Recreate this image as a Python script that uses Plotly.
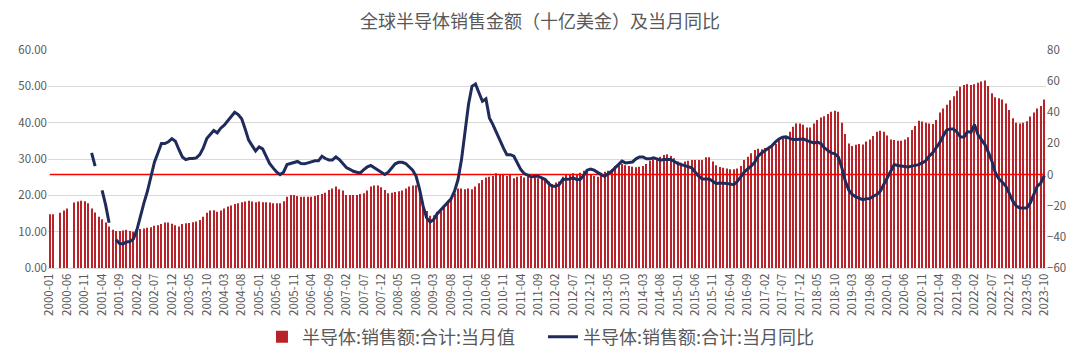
import plotly.graph_objects as go

# ---------------- data ----------------
months = [f"{y}-{m:02d}" for y in range(2000, 2024) for m in range(1, 13)][:286]
tick_labels = months[::5]

sales_2000 = [14.8, 14.8, None, 15.2, 15.8, 16.4, None, 18.0, 18.3, 18.5, 18.4, 17.8]
sales_2001 = [16.4, 15.3, 14.1, 13.4, 12.5, 11.4, 10.5, 10.2, 10.2, 10.3, 10.5, 10.2]
sales_2002 = [10.0, 10.5, 10.7, 10.9, 11.1, 11.2, 11.6, 11.8, 12.1, 12.5, 12.5, 12.2]
sales_2003 = [11.8, 11.4, 12.1, 12.3, 12.4, 12.6, 12.8, 13.2, 14.1, 15.2, 15.8, 15.9]
sales_2004 = [15.5, 15.8, 16.4, 16.9, 17.2, 17.6, 17.8, 18.1, 18.3, 18.5, 18.3, 18.1]
sales_2005 = [18.3, 18.1, 18.1, 18.0, 17.8, 17.8, 17.8, 18.4, 19.6, 20.1, 20.1, 19.8]
sales_2006 = [19.6, 19.6, 19.6, 19.6, 19.8, 20.1, 20.4, 20.7, 21.5, 21.9, 22.4, 21.7]
sales_2007 = [21.3, 20.1, 20.1, 20.1, 20.1, 20.4, 20.6, 21.3, 22.4, 22.7, 22.7, 22.2]
sales_2008 = [21.5, 20.6, 20.7, 20.9, 21.1, 21.3, 21.9, 22.4, 22.7, 22.8, 20.6, 17.8]
sales_2009 = [15.7, 14.4, 14.5, 15.5, 16.4, 17.1, 18.0, 19.0, 20.5, 21.9, 21.9, 21.7]
sales_2010 = [21.9, 21.7, 22.4, 23.3, 24.2, 24.9, 25.1, 25.3, 26.1, 25.9, 25.6, 25.3]
sales_2011 = [25.6, 24.7, 25.1, 25.3, 24.9, 25.1, 24.7, 25.0, 24.7, 24.7, 24.2, 23.8]
sales_2012 = [23.1, 23.5, 23.8, 25.1, 25.6, 25.9, 26.1, 25.9, 26.2, 26.8, 26.5, 25.6]
sales_2013 = [25.3, 25.1, 26.2, 26.5, 26.8, 27.2, 28.1, 28.3, 28.6, 28.3, 28.1, 27.9]
sales_2014 = [27.7, 27.9, 28.1, 28.6, 29.5, 29.9, 30.2, 30.6, 31.1, 31.3, 30.8, 30.2]
sales_2015 = [29.3, 29.0, 29.3, 29.5, 29.7, 29.7, 29.7, 29.7, 30.5, 30.5, 29.3, 28.3]
sales_2016 = [27.8, 27.6, 27.4, 27.2, 27.2, 27.4, 28.1, 29.7, 30.6, 31.6, 32.5, 32.8]
sales_2017 = [32.7, 33.0, 33.4, 33.9, 34.1, 35.2, 35.7, 36.3, 37.5, 38.9, 39.8, 39.8]
sales_2018 = [39.4, 38.7, 38.7, 39.8, 40.7, 41.4, 41.8, 42.4, 43.0, 43.3, 43.0, 40.0]
sales_2019 = [36.9, 34.3, 33.6, 33.9, 34.1, 34.0, 34.8, 35.4, 36.3, 37.5, 37.8, 37.5]
sales_2020 = [36.5, 35.4, 35.2, 35.0, 35.0, 35.4, 36.0, 38.0, 39.1, 40.5, 40.3, 40.0]
sales_2021 = [39.8, 39.6, 40.7, 42.8, 43.9, 44.9, 46.2, 47.3, 48.8, 49.9, 50.4, 50.6]
sales_2022 = [50.4, 50.6, 51.0, 51.3, 51.6, 50.1, 48.1, 47.0, 46.7, 46.4, 45.3, 43.5]
sales_2023 = [41.2, 40.0, 39.8, 40.0, 40.4, 41.7, 42.8, 43.9, 44.6, 46.4]

yoy_2000 = [None] * 12
yoy_2001 = [13.9, 5.4, None, -10.1, -19.3, -31.0, None, -41.8, -44.3, -44.5, -43.3, -43.0]
yoy_2002 = [-41.3, -35.3, -25.7, -18.2, -10.7, -1.1, 7.9, 13.9, 19.9, 19.9, 21.0, 23.1]
yoy_2003 = [21.4, 16.1, 11.3, 9.6, 10.3, 10.3, 10.7, 12.8, 17.1, 23.1, 25.7, 28.3]
yoy_2004 = [26.8, 29.8, 31.7, 34.3, 37.0, 40.0, 38.5, 35.8, 29.3, 22.1, 18.6, 15.2]
yoy_2005 = [17.8, 16.5, 11.8, 7.1, 4.3, 1.7, 0.0, 1.5, 6.4, 7.1, 7.7, 8.4]
yoy_2006 = [7.1, 6.9, 7.5, 8.4, 8.8, 8.8, 11.8, 10.3, 9.4, 9.4, 11.3, 9.6]
yoy_2007 = [7.1, 4.5, 3.4, 2.1, 1.5, 1.1, 3.2, 4.9, 5.8, 4.3, 2.8, 1.1]
yoy_2008 = [0.0, 1.5, 4.3, 6.9, 7.9, 7.9, 7.1, 4.9, 2.8, -1.1, -9.6, -20.3]
yoy_2009 = [-27.8, -30.4, -28.9, -25.3, -22.9, -20.3, -18.2, -15.6, -10.7, -3.2, 9.6, 27.8]
yoy_2010 = [45.0, 56.7, 58.2, 52.5, 47.1, 48.6, 36.4, 32.1, 26.8, 21.4, 17.1, 12.8]
yoy_2011 = [12.8, 11.8, 7.5, 3.2, 0.6, -0.4, -1.5, -1.1, -1.1, -2.1, -3.2, -5.8]
yoy_2012 = [-7.5, -7.5, -6.4, -3.2, -3.2, -2.8, -2.1, -3.2, -3.2, -0.6, 2.8, 3.6]
yoy_2013 = [2.8, 1.1, 0.0, -1.1, 0.4, 2.1, 4.3, 6.4, 8.6, 7.5, 7.7, 8.1]
yoy_2014 = [10.1, 11.3, 11.3, 10.1, 10.1, 10.7, 10.1, 9.2, 9.6, 9.6, 9.6, 8.4]
yoy_2015 = [7.1, 6.4, 5.8, 4.9, 4.3, 1.5, -1.1, -2.8, -2.8, -2.8, -4.3, -5.8]
yoy_2016 = [-5.4, -5.8, -5.8, -6.0, -6.6, -4.5, -1.5, 1.5, 3.6, 5.4, 7.9, 11.8]
yoy_2017 = [13.9, 15.4, 16.9, 18.6, 21.0, 22.9, 24.0, 24.2, 23.3, 22.5, 22.5, 22.5]
yoy_2018 = [22.9, 21.8, 20.8, 20.3, 20.8, 19.9, 17.1, 15.6, 13.9, 13.3, 11.3, 4.3]
yoy_2019 = [-4.3, -10.1, -12.8, -14.3, -15.0, -16.1, -15.6, -15.4, -13.9, -12.8, -10.7, -6.4]
yoy_2020 = [-1.5, 2.6, 6.4, 5.8, 5.4, 5.4, 4.9, 5.4, 5.8, 6.4, 7.5, 8.6]
yoy_2021 = [11.8, 13.9, 17.1, 20.3, 24.6, 28.5, 29.3, 29.3, 27.2, 24.2, 24.2, 27.6]
yoy_2022 = [27.2, 32.1, 25.7, 22.5, 19.3, 14.3, 8.6, 1.1, -2.8, -4.9, -7.5, -12.2]
yoy_2023 = [-17.1, -20.3, -21.4, -21.4, -21.4, -18.2, -12.2, -7.5, -5.4, -0.6]

sales = (sales_2000 + sales_2001 + sales_2002 + sales_2003 + sales_2004 + sales_2005
         + sales_2006 + sales_2007 + sales_2008 + sales_2009 + sales_2010 + sales_2011
         + sales_2012 + sales_2013 + sales_2014 + sales_2015 + sales_2016 + sales_2017
         + sales_2018 + sales_2019 + sales_2020 + sales_2021 + sales_2022 + sales_2023)
yoy = (yoy_2000 + yoy_2001 + yoy_2002 + yoy_2003 + yoy_2004 + yoy_2005
       + yoy_2006 + yoy_2007 + yoy_2008 + yoy_2009 + yoy_2010 + yoy_2011
       + yoy_2012 + yoy_2013 + yoy_2014 + yoy_2015 + yoy_2016 + yoy_2017
       + yoy_2018 + yoy_2019 + yoy_2020 + yoy_2021 + yoy_2022 + yoy_2023)

zero_ref = [0, 0]

FONT = "Noto Sans CJK SC"
GRAY = "#595959"

fig = go.Figure()
fig.add_trace(go.Bar(
    x=months, y=sales, name="半导体:销售额:合计:当月值",
    marker=dict(color="#B8232A", line=dict(width=0)), yaxis="y",
))
fig.add_trace(go.Scatter(
    x=[months[0], months[-1]], y=zero_ref, yaxis="y2", mode="lines",
    line=dict(color="#FF0000", width=1.5), showlegend=False, hoverinfo="skip",
))
fig.add_trace(go.Scatter(
    x=months, y=yoy, name="半导体:销售额:合计:当月同比", yaxis="y2",
    mode="lines", connectgaps=False,
    line=dict(color="#1F2B5B", width=3),
))

fig.update_layout(
    width=1080, height=361, autosize=False,
    margin=dict(l=48, r=34, t=50, b=93, autoexpand=False),
    paper_bgcolor="white", plot_bgcolor="white",
    font=dict(family=FONT, color=GRAY),
    title=dict(text="全球半导体销售金额（十亿美金）及当月同比", x=0.5, xanchor="center",
               y=1 - 22 / 361, yanchor="middle",
               font=dict(family=FONT, size=18, color=GRAY)),
    bargap=0.7,
    showlegend=True,
    legend=dict(orientation="h", x=0.2144, xanchor="left",
                yref="container", y=1 - 337 / 361, yanchor="middle",
                entrywidth=236, entrywidthmode="pixels",
                font=dict(family=FONT, size=18, color=GRAY), bgcolor="rgba(0,0,0,0)"),
    xaxis=dict(type="category", range=[-0.5, len(months) - 0.5], automargin=False,
               tickmode="array", tickvals=tick_labels, ticktext=tick_labels,
               tickangle=-90, tickfont=dict(family=FONT, size=11.5, color=GRAY),
               showgrid=False, showline=True, linecolor="#D9D9D9", ticks=""),
    yaxis=dict(range=[0, 60], dtick=10, tickformat=".2f", automargin=False,
               showgrid=True, gridcolor="#D9D9D9", gridwidth=1, zeroline=False,
               tickfont=dict(family=FONT, size=11.5, color=GRAY)),
    yaxis2=dict(range=[-60, 80], dtick=20, overlaying="y", side="right", automargin=False,
                showgrid=False, zeroline=False,
                tickfont=dict(family=FONT, size=11.5, color=GRAY)),
)

fig.write_html("out.html", config={"displayModeBar": False},
               post_script="document.body.style.margin='0';document.body.style.padding='0';")
